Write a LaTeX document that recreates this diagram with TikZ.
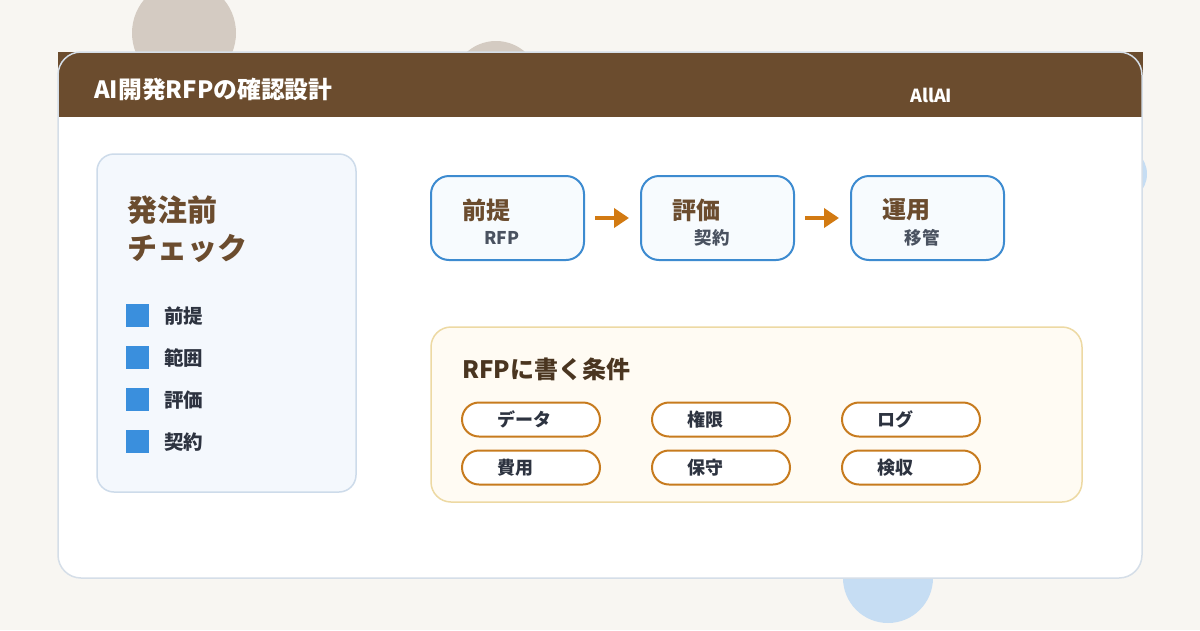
\documentclass[tikz,border=0pt]{standalone}
\usepackage{fontspec}
\setmainfont{Noto Sans CJK JP}
\usetikzlibrary{arrows.meta}
\definecolor{bg}{HTML}{F8F6F2}
\definecolor{circbrown}{HTML}{D4CBC2}
\definecolor{circblue}{HTML}{C6DDF3}
\definecolor{cardborder}{HTML}{D5DEE8}
\definecolor{hdr}{HTML}{6B4C2E}
\definecolor{panelfill}{HTML}{F4F8FD}
\definecolor{panelborder}{HTML}{CDDBEA}
\definecolor{bulletblue}{HTML}{3A8FDD}
\definecolor{flowborder}{HTML}{3D8BD0}
\definecolor{flowfill}{HTML}{F7FBFE}
\definecolor{arroworange}{HTML}{D27A12}
\definecolor{condfill}{HTML}{FFFBF3}
\definecolor{condborder}{HTML}{EDD9A3}
\definecolor{pillborder}{HTML}{C77B1E}
\definecolor{darktext}{HTML}{2D3340}
\definecolor{subtext}{HTML}{4A5260}
\definecolor{condtitle}{HTML}{4A3520}
\tikzset{
  txt/.style={inner sep=0pt, anchor=west, font=\bfseries},
  flowbox/.style={draw=flowborder, fill=flowfill, line width=2pt, rounded corners=18pt, minimum width=153pt, minimum height=84pt},
  flowtitle/.style={txt, text=hdr, font=\fontsize{24}{28}\selectfont\bfseries},
  flowsub/.style={inner sep=0pt, text=subtext, font=\fontsize{17.5}{21}\selectfont\bfseries},
  flowarrow/.style={arroworange, line width=4pt, -{Triangle[length=15pt,width=19pt]}, shorten <=10pt, shorten >=11pt},
  bullet/.style={fill=bulletblue, minimum size=23pt, inner sep=0pt},
  bullettext/.style={txt, text=darktext, font=\fontsize{19.5}{23}\selectfont\bfseries},
  pill/.style={draw=pillborder, fill=white, line width=2pt, rounded corners=17pt, minimum height=34pt, text width=68pt, inner xsep=35pt, inner ysep=0pt, align=left, text=darktext, font=\fontsize{18}{21}\selectfont\bfseries}
}
\begin{document}
\begin{tikzpicture}[x=1pt,y=-1pt]
\useasboundingbox (0,0) rectangle (1200,630);
\fill[bg] (0,0) rectangle (1200,630);
% background circles
\fill[circbrown] (184,33) circle (52);
\fill[circbrown] (496,85) circle (44);
\fill[circblue] (1119,174) circle (28);
\fill[circblue] (888,578) circle (45);
% card
\fill[white, rounded corners=23pt] (58,52) rectangle (1142,578);
\fill[hdr] (58,52) rectangle (1143,117);
\draw[cardborder, line width=1.5pt, rounded corners=23pt] (58,52) rectangle (1142,578);
\node[txt, text=white, font=\fontsize{23.8}{28}\selectfont\bfseries] (title) at (94,89) {AI開発RFPの確認設計};
\node[txt, text=white, font=\fontsize{18}{21}\selectfont\bfseries] (brand) at (910,95) {AllAI};
% left panel
\node[draw=panelborder, fill=panelfill, line width=1.5pt, rounded corners=17pt, minimum width=259pt, minimum height=338pt] (panel) at (226.5,323) {};
\node[txt, text=hdr, font=\fontsize{30}{34}\selectfont\bfseries] (pt1) at (127,210) {発注前};
\node[txt, text=hdr, font=\fontsize{30}{34}\selectfont\bfseries] (pt2) at (127,248) {チェック};
\node[bullet] (b1) at (137.5,315.5) {};
\node[bullet] (b2) at (137.5,357.5) {};
\node[bullet] (b3) at (137.5,399.5) {};
\node[bullet] (b4) at (137.5,441.5) {};
\node[bullettext] (bt1) at (164,316) {前提};
\node[bullettext] (bt2) at (164,358) {範囲};
\node[bullettext] (bt3) at (164,400) {評価};
\node[bullettext] (bt4) at (164,442) {契約};
% flow
\node[flowbox] (f1) at (507.5,218) {};
\node[flowbox] (f2) at (717.5,218) {};
\node[flowbox] (f3) at (927.5,218) {};
\node[flowtitle] (f1t) at (462,210) {前提};
\node[flowtitle] (f2t) at (672,210) {評価};
\node[flowtitle] (f3t) at (882,210) {運用};
\node[flowsub] (f1s) at (502,238) {RFP};
\node[flowsub] (f2s) at (712,238) {契約};
\node[flowsub] (f3s) at (922,238) {移管};
\draw[flowarrow] (f1) -- (f2);
\draw[flowarrow] (f2) -- (f3);
% conditions
\node[draw=condborder, fill=condfill, line width=1.5pt, rounded corners=20pt, minimum width=651pt, minimum height=175pt] (cond) at (756.5,414.5) {};
\node[txt, text=condtitle, font=\fontsize{24}{28}\selectfont\bfseries] (condt) at (462,369) {RFPに書く条件};
\node[pill] (p1) at (531,419.5) {データ};
\node[pill] (p2) at (721,419.5) {権限};
\node[pill] (p3) at (911,419.5) {ログ};
\node[pill] (p4) at (531,467.5) {費用};
\node[pill] (p5) at (721,467.5) {保守};
\node[pill] (p6) at (911,467.5) {検収};
\end{tikzpicture}
\end{document}
